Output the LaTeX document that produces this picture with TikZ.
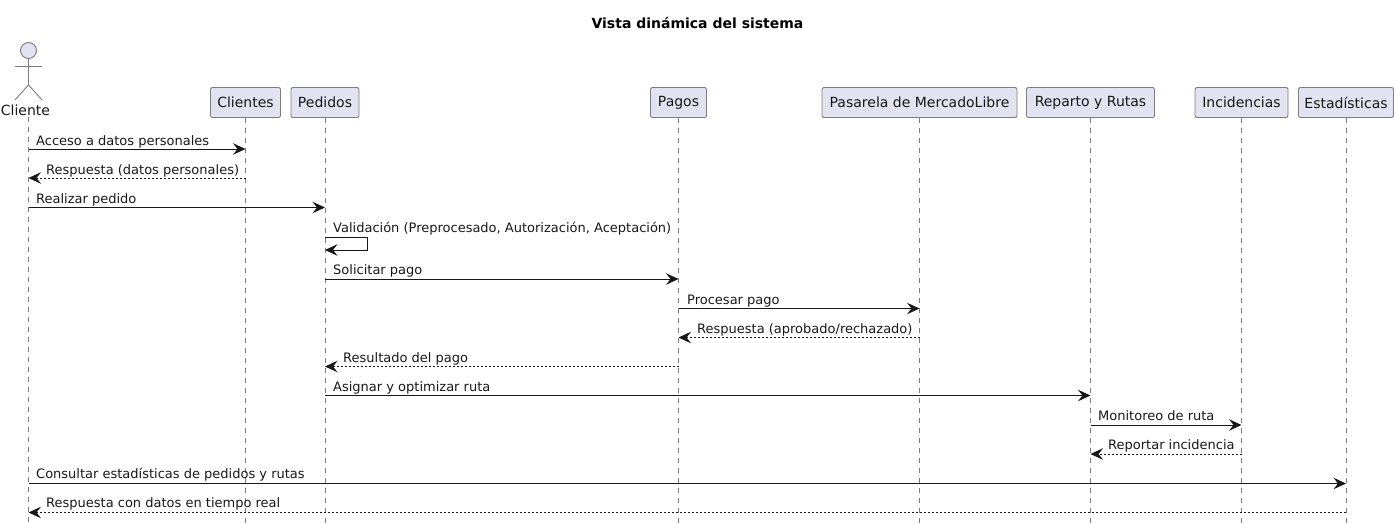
\documentclass[tikz,border=0pt]{standalone}
\usepackage{fontspec}
\setmainfont{DejaVu Sans}
\usetikzlibrary{arrows.meta}
\definecolor{boxfill}{HTML}{E2E2F0}
\definecolor{boxline}{HTML}{7C7C84}
\definecolor{inkdark}{HTML}{181818}
\tikzset{
    participant/.style={draw=boxline, fill=boxfill, rounded corners=2pt, line width=0.9pt,
        minimum height=30pt, inner sep=0pt, text=inkdark, font=\fontsize{14}{16}\selectfont},
    lifeline/.style={draw=boxline, line width=0.75pt, dash pattern=on 5pt off 5pt},
    actorline/.style={draw=boxline, line width=0.9pt},
    msg/.style={draw=inkdark, line width=1pt, -{Stealth[length=12.5pt,width=11.5pt,inset=4.5pt]}},
    reply/.style={msg, dash pattern=on 2pt off 2pt},
    msglabel/.style={anchor=base west, inner sep=0pt, text=inkdark, font=\fontsize{13}{15}\selectfont},
}
\begin{document}
\begin{tikzpicture}[x=1pt, y=-1pt]
    \useasboundingbox (0,0) rectangle (1394,523);
    % Title
    \node[font=\fontsize{14}{16}\selectfont\bfseries, text=black] (titulo) at (697.5,23) {Vista dinámica del sistema};
    % Actor
    \coordinate (cliente) at (28.5,117);
    \node[actorline, fill=boxfill, circle, minimum size=16pt, inner sep=0pt] (cabeza) at (28.5,50.5) {};
    \draw[actorline] (cabeza.south) -- ++(0,26) coordinate (cadera) -- ++(-13.5,15);
    \draw[actorline] (cadera) -- ++(13.5,15);
    \draw[actorline] (15,66) -- (42,66);
    \node[font=\fontsize{14}{16}\selectfont, text=inkdark, inner sep=0pt] (nombrecliente) at (25.5,110) {Cliente};
    % Participants
    \node[participant, minimum width=70pt] (clientes) at (245.5,102.5) {Clientes};
    \node[participant, minimum width=68pt] (pedidos) at (325,102.5) {Pedidos};
    \node[participant, minimum width=56pt] (pagos) at (678.5,102.5) {Pagos};
    \node[participant, minimum width=195pt] (pasarela) at (919.5,102.5) {Pasarela de MercadoLibre};
    \node[participant, minimum width=128pt] (reparto) at (1090.5,102.5) {Reparto y Rutas};
    \node[participant, minimum width=93pt] (incidencias) at (1241.5,102.5) {Incidencias};
    \node[participant, minimum width=95pt] (estadisticas) at (1346,102.5) {Estadísticas};
    % Lifelines
    \draw[lifeline] (cliente) -- (cliente |- 0,523);
    \draw[lifeline] (clientes.south) -- (clientes.south |- 0,523);
    \draw[lifeline] (pedidos.south) -- (pedidos.south |- 0,523);
    \draw[lifeline] (pagos.south) -- (pagos.south |- 0,523);
    \draw[lifeline] (pasarela.south) -- (pasarela.south |- 0,523);
    \draw[lifeline] (reparto.south) -- (reparto.south |- 0,523);
    \draw[lifeline] (incidencias.south) -- (incidencias.south |- 0,523);
    \draw[lifeline] (estadisticas.south) -- (estadisticas.south |- 0,523);
    % Messages
    \draw[msg] (cliente |- 0,149) -- (clientes.south |- 0,149);
    \node[msglabel] (m1) at (36,145) {Acceso a datos personales};
    \draw[reply] (clientes.south |- 0,178) -- (cliente |- 0,178);
    \node[msglabel] (m2) at (46,174) {Respuesta (datos personales)};
    \draw[msg] (cliente |- 0,207.5) -- (pedidos.south |- 0,207.5);
    \node[msglabel] (m3) at (36,203) {Realizar pedido};
    \draw[msg] (pedidos.south |- 0,237) -- ++(42,0) -- ++(0,13) -- (pedidos.south |- 0,250);
    \node[msglabel] (m4) at (333,232) {Validación (Preprocesado, Autorización, Aceptación)};
    \draw[msg] (pedidos.south |- 0,279) -- (pagos.south |- 0,279);
    \node[msglabel] (m5) at (333,274.5) {Solicitar pago};
    \draw[msg] (pagos.south |- 0,308.5) -- (pasarela.south |- 0,308.5);
    \node[msglabel] (m6) at (687,304) {Procesar pago};
    \draw[reply] (pasarela.south |- 0,337.5) -- (pagos.south |- 0,337.5);
    \node[msglabel] (m7) at (697,333) {Respuesta (aprobado/rechazado)};
    \draw[reply] (pagos.south |- 0,366.5) -- (pedidos.south |- 0,366.5);
    \node[msglabel] (m8) at (343,362) {Resultado del pago};
    \draw[msg] (pedidos.south |- 0,395.5) -- (reparto.south |- 0,395.5);
    \node[msglabel] (m9) at (333,391) {Asignar y optimizar ruta};
    \draw[msg] (reparto.south |- 0,425) -- (incidencias.south |- 0,425);
    \node[msglabel] (m10) at (1098,420) {Monitoreo de ruta};
    \draw[reply] (incidencias.south |- 0,454) -- (reparto.south |- 0,454);
    \node[msglabel] (m11) at (1108,449.5) {Reportar incidencia};
    \draw[msg] (cliente |- 0,483.5) -- (estadisticas.south |- 0,483.5);
    \node[msglabel] (m12) at (36,478.5) {Consultar estadísticas de pedidos y rutas};
    \draw[reply] (estadisticas.south |- 0,512.5) -- (cliente |- 0,512.5);
    \node[msglabel] (m13) at (46,507.5) {Respuesta con datos en tiempo real};
\end{tikzpicture}
\end{document}
